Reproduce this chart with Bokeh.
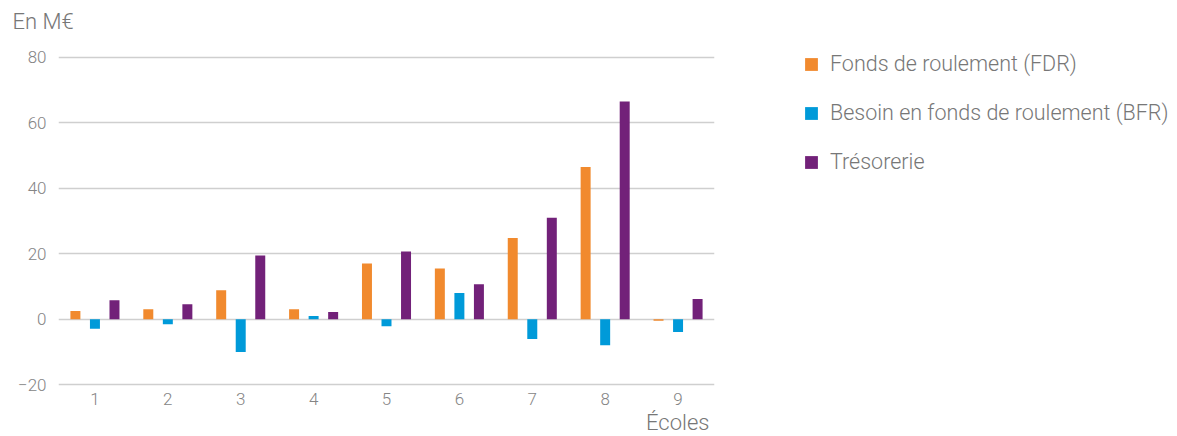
from bokeh.plotting import figure
from bokeh.models import FactorRange, Range1d, FixedTicker, Legend, LegendItem, Title, ColumnDataSource
from bokeh.transform import dodge
from bokeh.embed import file_html
from bokeh.resources import INLINE

schools = ["1", "2", "3", "4", "5", "6", "7", "8", "9"]
fdr = [2.5, 3.1, 8.9, 3.1, 17.0, 15.5, 24.8, 46.5, -0.4]
bfr = [-2.9, -1.5, -10.0, 1.0, -2.1, 8.0, -6.0, -7.9, -3.9]
treso = [5.8, 4.6, 19.5, 2.2, 20.7, 10.7, 31.0, 66.5, 6.2]
y_ticks = [-20, 0, 20, 40, 60, 80]
series_labels = ["Fonds de roulement (FDR)", "Besoin en fonds de roulement (BFR)", "Trésorerie"]
colors = ["#F18A2E", "#009AD9", "#722179"]

FONT = "Roboto Light"
TXT = "#777777"

src = ColumnDataSource(dict(school=schools, fdr=fdr, bfr=bfr, treso=treso))

p = figure(frame_width=656, frame_height=331, x_range=FactorRange(*schools, range_padding=0),
           y_range=Range1d(-20.5, 80.5), output_backend="svg", toolbar_location=None,
           min_border_left=58, min_border_right=0, min_border_top=55, min_border_bottom=40)
p.outline_line_color = None

rs = []
for field, off, col in zip(["fdr", "bfr", "treso"], [-0.268, 0.0, 0.268], colors):
    r = p.vbar(x=dodge("school", off, range=p.x_range), top=field, bottom=0, width=0.137,
               source=src, fill_color=col, line_color=None)
    rs.append(r)

p.xgrid.grid_line_color = None
p.ygrid.grid_line_color = "#cfcfcf"
p.ygrid.grid_line_width = 1.3
p.yaxis.ticker = FixedTicker(ticks=y_ticks)

for ax in (p.xaxis[0], p.yaxis[0]):
    ax.axis_line_color = None
    ax.major_tick_line_color = None
    ax.minor_tick_line_color = None
    ax.major_tick_out = 0
    ax.major_tick_in = 0
    ax.major_label_text_font = FONT
    ax.major_label_text_font_size = "17px"
    ax.major_label_text_color = "#858585"
p.yaxis.major_label_standoff = 12
p.xaxis.major_label_standoff = 6

legend = Legend(items=[LegendItem(label=l, renderers=[r]) for l, r in zip(series_labels, rs)],
                location=(89, 212), padding=0, margin=0, border_line_color=None,
                background_fill_alpha=0, glyph_width=16, glyph_height=16, label_height=20,
                spacing=24, label_standoff=11, label_text_font=FONT,
                label_text_font_size="21.5px", label_text_color=TXT)
p.add_layout(legend, "right")

# spacer between the frame and the unit title
p.add_layout(Title(text=" ", text_font_size="1px", standoff=19), "above")
p.add_layout(Title(text="En M€", align="left", offset=-46, standoff=0, text_font=FONT,
                   text_font_size="22px", text_font_style="normal", text_color=TXT), "above")
p.add_layout(Title(text="Écoles", align="right", offset=5, standoff=0, text_font=FONT,
                   text_font_size="22px", text_font_style="normal", text_color=TXT), "below")

open("out.html", "w").write(file_html(p, INLINE))
